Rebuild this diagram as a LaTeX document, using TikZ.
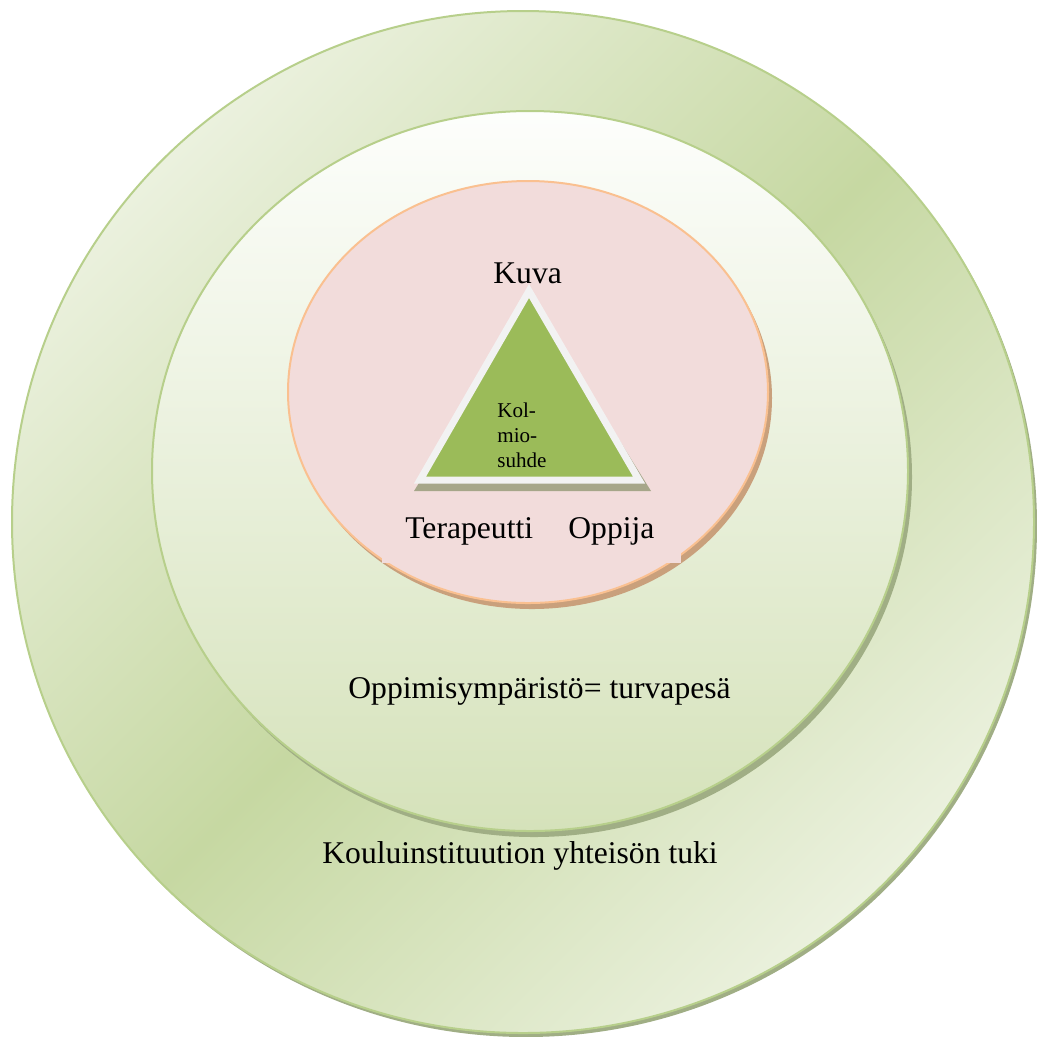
\documentclass[tikz,border=0pt]{standalone}
\usepackage{fontspec}
\setmainfont{Liberation Serif}
\usetikzlibrary{calc}

\definecolor{ringlight}{HTML}{EBF1DE}
\definecolor{ringdark}{HTML}{C6D8A2}
\definecolor{ringline}{HTML}{B7CF8B}
\definecolor{ringshadow}{HTML}{A0AE85}
\definecolor{nesttop}{HTML}{FDFEFC}
\definecolor{nestbottom}{HTML}{D5E2BA}
\definecolor{corefill}{HTML}{F2DCDB}
\definecolor{coreline}{HTML}{FAC090}
\definecolor{coreshadow}{HTML}{C9A07C}
\definecolor{trifill}{HTML}{9BBB59}
\definecolor{triline}{HTML}{F2F2F2}
\definecolor{trishadow}{HTML}{A6A689}

\tikzset{
	bigtext/.style={font=\fontsize{18}{21}\selectfont, anchor=base west, inner sep=0pt},
	smalltext/.style={font=\fontsize{12}{14}\selectfont, anchor=base west, inner sep=0pt, align=left},
}

\begin{document}
\begin{tikzpicture}[x=0.02cm, y=-0.02cm]
			%%%%% START %%%%%
			\useasboundingbox (0, 0) rectangle (1037, 1036);
			
			% outer ring
			\fill[ringshadow] (526, 526) circle[radius=511];
			\shade[top color=ringlight, bottom color=ringlight, middle color=ringdark, shading angle=45] (523, 522) circle[radius=511];
			\draw[ringline, line width=0.04cm] (523, 522) circle[radius=511];
			
			% middle circle
			\fill[ringshadow] (534, 477) ellipse[x radius=378, y radius=360];
			\shade[top color=nesttop, bottom color=nestbottom] (530, 471) ellipse[x radius=378, y radius=360];
			\draw[ringline, line width=0.04cm] (530, 471) ellipse[x radius=378, y radius=360];
			
			% inner ellipse
			\fill[coreshadow] (532, 398) ellipse[x radius=240, y radius=211];
			\filldraw[fill=corefill, draw=coreline, line width=0.04cm] (528, 392) ellipse[x radius=240, y radius=211];
			\fill[corefill] (382, 495) rectangle (681, 563);
			
			% triangle
			\fill[trishadow] (532, 300) -- (651, 491) -- (414, 491) -- cycle;
			\filldraw[fill=trifill, draw=triline, line width=0.14cm] (529, 291) -- (639, 480) -- (420, 480) -- cycle;
			
			\node[bigtext] (kuva) at (493, 283) {Kuva};
			\node[smalltext] (kolmio) at (497, 467) {Kol-\\mio-\\suhde};
			\node[bigtext] (terapeutti) at (405, 538) {Terapeutti};
			\node[bigtext] (oppija) at (568, 538) {Oppija};
			
			\node[bigtext] (ymparisto) at (348, 698) {Oppimisympäristö= turvapesä};
			\node[bigtext] (tuki) at (322, 863) {Kouluinstituution yhteisön tuki};
			%%%%% END %%%%%
\end{tikzpicture}
\end{document}
